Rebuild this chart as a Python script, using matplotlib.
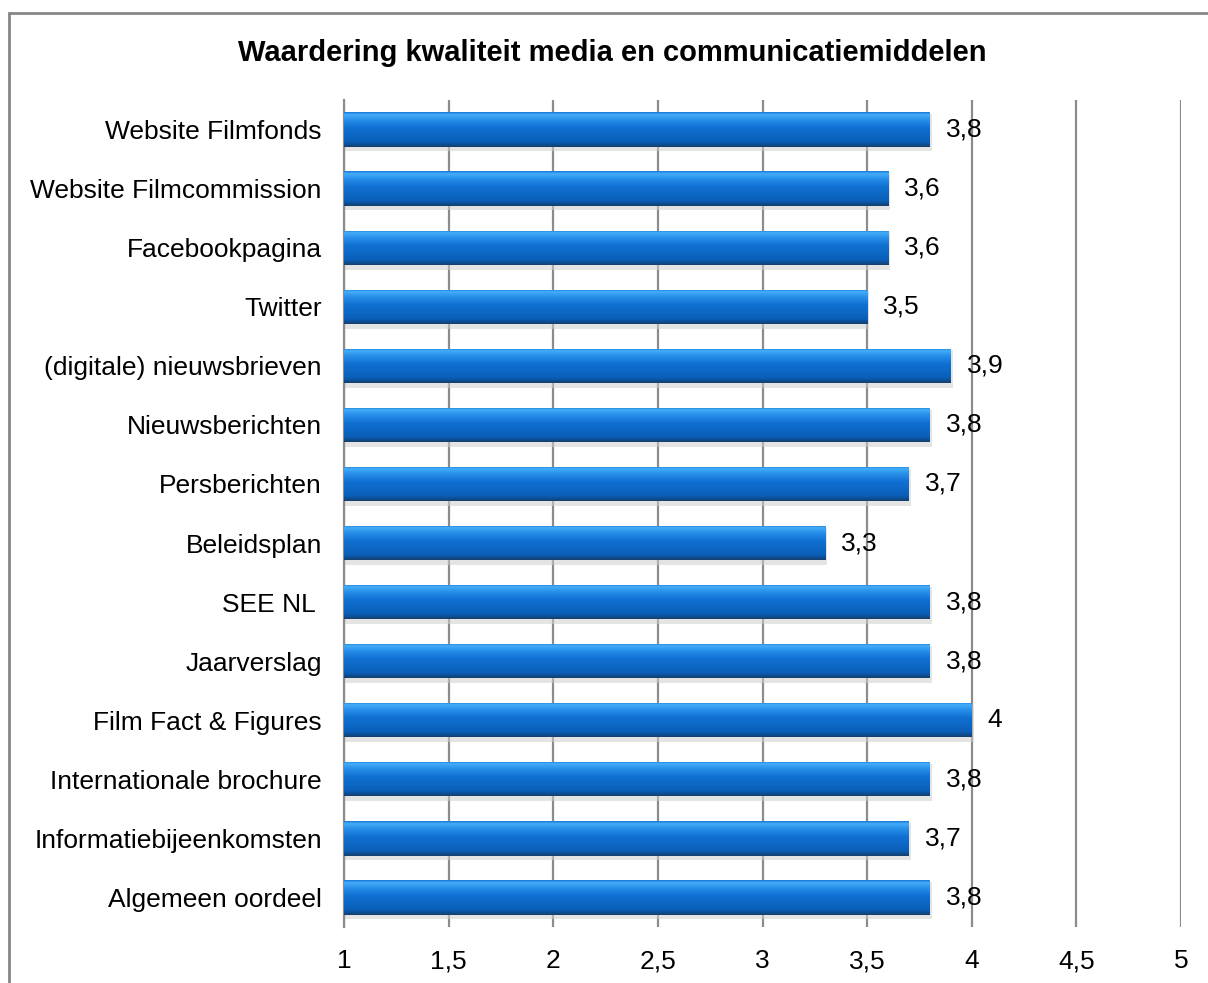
import numpy as np
import matplotlib.pyplot as plt
from matplotlib.patches import Rectangle
from matplotlib.colors import LinearSegmentedColormap
from matplotlib.ticker import FuncFormatter

plt.rcParams['font.family'] = ['Liberation Sans', 'DejaVu Sans']

categories = ['Website Filmfonds', 'Website Filmcommission', 'Facebookpagina', 'Twitter',
              '(digitale) nieuwsbrieven', 'Nieuwsberichten', 'Persberichten', 'Beleidsplan',
              'SEE NL ', 'Jaarverslag', 'Film Fact & Figures', 'Internationale brochure',
              'Informatiebijeenkomsten', 'Algemeen oordeel']
values = [3.8, 3.6, 3.6, 3.5, 3.9, 3.8, 3.7, 3.3, 3.8, 3.8, 4.0, 3.8, 3.7, 3.8]
xticks = [1, 1.5, 2, 2.5, 3, 3.5, 4, 4.5, 5]


def comma(v, pos=None):
    s = '%g' % v
    return s.replace('.', ',')


fig = plt.figure(figsize=(12.08, 9.83), dpi=100)
# outer chart border (runs off the right and bottom edge)
fig.patches.append(Rectangle((9 / 1208, -0.05), 1.1, 1 - 13 / 983 + 0.05,
                             transform=fig.transFigure, fill=False,
                             edgecolor='#868686', linewidth=2))

ax = fig.add_axes([344 / 1208, 1 - 927 / 983, (1181 - 344) / 1208, (927 - 100) / 983])
y = np.arange(len(categories))
h = 0.58

# gradient row 0 = top edge of the bar on screen
grad = LinearSegmentedColormap.from_list('bar', [
    (0.0, '#1a78d8'), (0.07, '#45aef8'), (0.2, '#2a92ec'),
    (0.45, '#1070d2'), (0.85, '#0a5fb8'), (0.93, '#0d4f96'), (1.0, '#163f6c')])
g = np.linspace(0, 1, 100).reshape(-1, 1)

for yi, v in zip(y, values):
    # soft shadow
    ax.add_patch(Rectangle((1, yi - h / 2 + 0.03), v - 1 + 0.01, h + 0.05,
                           facecolor='#cfcfcf', edgecolor='none', alpha=0.55, zorder=2))
    bar = ax.barh(yi, v - 1, left=1, height=h, color='#0b66c4', zorder=3)[0]
    im = ax.imshow(g, cmap=grad, aspect='auto', origin='upper',
                   extent=(1, v, yi + h / 2, yi - h / 2), zorder=3.5,
                   interpolation='bilinear')
    im.set_clip_path(bar)
    ax.text(v + 0.075, yi, comma(v), va='center', ha='left', fontsize=19, zorder=5)

ax.set_xlim(1, 5)
ax.set_ylim(len(categories) - 0.5, -0.5)
ax.set_xticks(xticks)
ax.xaxis.set_major_formatter(FuncFormatter(comma))
ax.set_yticks(y)
ax.set_yticklabels(categories)
ax.tick_params(axis='both', length=0, labelsize=19)
ax.tick_params(axis='y', pad=16)
ax.tick_params(axis='x', pad=16)
ax.grid(axis='x', color='#8c8c8c', linewidth=1.6, zorder=1)
ax.set_axisbelow(True)
for s in ['top', 'right', 'bottom']:
    ax.spines[s].set_visible(False)
ax.spines['left'].set_color('#8c8c8c')
ax.spines['left'].set_linewidth(1.6)

fig.text(0.507, 1 - 53 / 983, 'Waardering kwaliteit media en communicatiemiddelen',
         ha='center', va='center', fontsize=21, fontweight='bold')

fig.savefig('out.png', dpi=100)
